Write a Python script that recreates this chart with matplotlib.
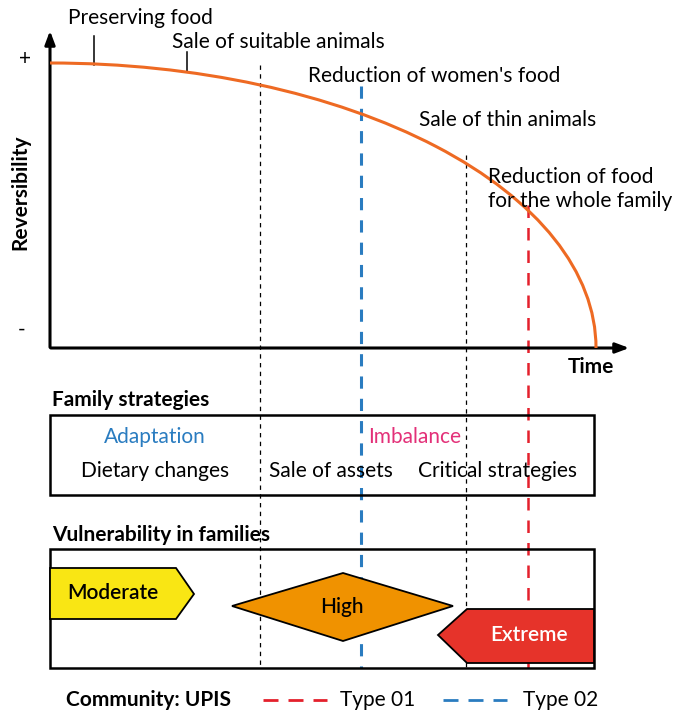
import matplotlib
matplotlib.use("Agg")
import matplotlib.pyplot as plt
from matplotlib.patches import Arc, Polygon, Rectangle

plt.rcParams["font.family"] = ["Lato", "DejaVu Sans"]

# events along the reversibility curve
event_labels = ["Preserving food", "Sale of suitable animals", "Reduction of women's food",
                "Sale of thin animals", "Reduction of food\nfor the whole family"]
strategy_groups = ["Adaptation", "Imbalance"]
strategy_labels = ["Dietary changes", "Sale of assets", "Critical strategies"]
vulnerability_labels = ["Moderate", "High", "Extreme"]
community_types = ["Type 01", "Type 02"]

# figure in pixel coordinates (y down)
fig = plt.figure(figsize=(6.9, 7.12), dpi=100)
ax = fig.add_axes([0, 0, 1, 1])
ax.set_xlim(0, 690)
ax.set_ylim(712, 0)
ax.axis("off")

orange = "#ee6a23"
blue = "#2a7cc0"
red = "#e4202c"
pink = "#e33078"
fs = 15
bfs = 15

# axes with arrows
ax.annotate("", xy=(50, 28), xytext=(50, 350),
            arrowprops=dict(arrowstyle="-|>,head_length=0.8,head_width=0.3", lw=2.2, color="black"))
ax.annotate("", xy=(632, 348), xytext=(48, 348),
            arrowprops=dict(arrowstyle="-|>,head_length=0.8,head_width=0.3", lw=2.2, color="black"))
ax.text(25, 59, "+", fontsize=15, ha="center", va="center")
ax.text(22, 330, "-", fontsize=15, ha="center", va="center")
ax.text(20, 192, "Reversibility", fontsize=bfs, fontweight="bold", rotation=90,
        ha="center", va="center")
ax.text(591, 367, "Time", fontsize=bfs, fontweight="bold", ha="center", va="center")

# reversibility curve (quarter ellipse)
ax.add_patch(Arc((50, 348), 2 * 546, 2 * 285, theta1=270, theta2=360,
                 color=orange, lw=2.2, zorder=3))

# event labels with leader ticks
ax.text(68, 18, event_labels[0], fontsize=fs, ha="left", va="center")
ax.plot([94, 94], [36, 65], color="black", lw=1.1)
ax.text(172, 42, event_labels[1], fontsize=fs, ha="left", va="center")
ax.plot([187, 187], [52, 72], color="black", lw=1.1)
ax.text(308, 76, event_labels[2], fontsize=fs, ha="left", va="center")
ax.text(419, 120, event_labels[3], fontsize=fs, ha="left", va="center")
ax.text(488, 189, event_labels[4], fontsize=fs, ha="left", va="center", linespacing=1.25)

# vertical stage lines
ax.plot([260, 260], [65, 668], color="black", lw=0.9, ls=(0, (3.5, 3.5)), zorder=1)
ax.plot([466, 466], [155, 668], color="black", lw=0.9, ls=(0, (3.5, 3.5)), zorder=1)
ax.plot([361, 361], [86, 668], color=blue, lw=2.2, ls=(0, (4, 3.3)), zorder=1)
ax.plot([528, 528], [205, 668], color=red, lw=1.8, ls=(0, (5, 4)), zorder=1)

# family strategies box
ax.text(52, 400, "Family strategies", fontsize=bfs, fontweight="bold", ha="left", va="center")
ax.add_patch(Rectangle((50, 415), 544, 80, fill=False, lw=1.8, ec="black", zorder=2))
ax.text(155, 437, strategy_groups[0], fontsize=fs, color=blue, ha="center", va="center")
ax.text(415, 437, strategy_groups[1], fontsize=fs, color=pink, ha="center", va="center")
ax.text(155, 471, strategy_labels[0], fontsize=fs, ha="center", va="center")
ax.text(331, 471, strategy_labels[1], fontsize=fs, ha="center", va="center")
ax.text(498, 471, strategy_labels[2], fontsize=fs, ha="center", va="center")

# vulnerability box
ax.text(52, 535, "Vulnerability in families", fontsize=bfs, fontweight="bold",
        ha="left", va="center")
ax.add_patch(Rectangle((50, 549), 544, 119, fill=False, lw=1.8, ec="black", zorder=2))
ax.add_patch(Polygon([(50, 568), (176, 568), (194, 594), (176, 619), (50, 619)],
                     closed=True, fc="#f9e614", ec="black", lw=1.3, zorder=3))
ax.text(113, 593, vulnerability_labels[0], fontsize=fs, fontweight="semibold",
        ha="center", va="center", zorder=4)
ax.add_patch(Polygon([(232, 606), (343, 573), (453, 606), (343, 641)],
                     closed=True, fc="#f09200", ec="black", lw=1.3, zorder=3))
ax.text(342, 607, vulnerability_labels[1], fontsize=fs, fontweight="medium",
        ha="center", va="center", zorder=4)
ax.add_patch(Polygon([(594, 609), (467, 609), (438, 635), (467, 663), (594, 663)],
                     closed=True, fc="#e6332a", ec="black", lw=1.3, zorder=3))
ax.text(529, 635, vulnerability_labels[2], fontsize=fs, fontweight="semibold", color="white",
        ha="center", va="center", zorder=4)

# legend
ax.text(148, 700, "Community: UPIS", fontsize=bfs, fontweight="bold", ha="center", va="center")
ax.plot([263, 327], [700, 700], color=red, lw=2.0, ls=(0, (5.4, 3.6)))
ax.text(340, 700, community_types[0], fontsize=fs, ha="left", va="center")
ax.plot([443, 507], [700, 700], color=blue, lw=2.0, ls=(0, (5.4, 3.6)))
ax.text(523, 700, community_types[1], fontsize=fs, ha="left", va="center")

fig.savefig("out.png", dpi=100)
plt.close(fig)
